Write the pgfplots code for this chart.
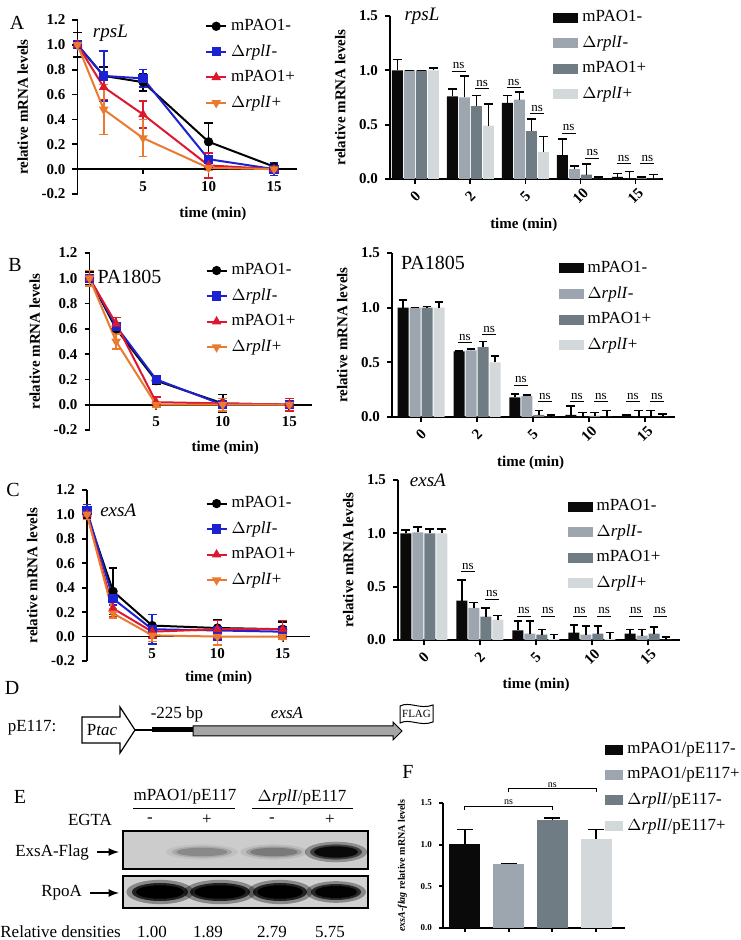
\documentclass[border=0pt]{standalone}
\usepackage{fontspec}
\setmainfont{Liberation Serif}
\usepackage{pgfplots}
\pgfplotsset{compat=1.18}

\definecolor{cblue}{HTML}{1C22D0}
\definecolor{cred}{HTML}{DC1830}
\definecolor{corange}{HTML}{E97A30}
\definecolor{bA}{HTML}{0A0A0A}
\definecolor{bB}{HTML}{9DA5AF}
\definecolor{bC}{HTML}{707C83}
\definecolor{bD}{HTML}{D3D8DA}

\newcommand{\fs}[1]{\fontsize{#1}{#1}\selectfont}
\newcommand{\dr}{$\Delta$\textit{rplI}}
% ns mark above a pair of bars
\newcommand{\ns}[2]{\draw[line width=0.5pt] ([xshift=-3.5pt]axis cs:#1,#2) -- ([xshift=3.5pt]axis cs:#1,#2);
  \node[font=\fs{6.5}, anchor=south, inner sep=0pt] at ([yshift=1pt]axis cs:#1,#2) {ns};}
% blurred blot band
\newcommand{\band}[7]{\fill[black, opacity=#5] (#1,#2) ellipse ({#3*1.2} and {#4*1.35});
  \fill[black, opacity=#6] (#1,#2) ellipse (#3 and #4);
  \fill[black, opacity=#7] (#1,#2) ellipse ({#3*0.85} and {#4*0.75});}

\pgfplotsset{
  base/.style={scale only axis, clip=false, enlargelimits=false,
    tick align=outside, major tick length=2.5pt,
    /pgf/number format/assume math mode=true,
    tick label style={font=\bfseries\fs{7.5}},
    label style={font=\bfseries\fs{7.5}},
    yticklabel style={/pgf/number format/.cd, fixed, fixed zerofill, precision=1},
    axis line style={line width=0.9pt}, tick style={line width=0.9pt, black}},
  linechart/.style={base, xmin=0, xmax=#1, ymin=-0.2, ymax=1.2,
    axis y line*=left, axis x line*=middle,
    xtick={5,10,15}, ytick={-0.2,0,0.2,0.4,0.6,0.8,1.0,1.2},
    ylabel={relative mRNA levels}, xlabel={time (min)},
    legend style={anchor=north west, draw=none, fill=none, inner sep=0pt,
      font=\fs{8.5}, row sep=1.5pt, cells={anchor=west}},
    legend image code/.code={\draw[mark repeat=2,mark phase=2,##1] plot coordinates {(0pt,0pt) (5pt,0pt) (10pt,0pt)};},
    every axis plot/.append style={line width=1pt, mark size=1.8pt,
      /pgfplots/error bars/y dir=both, /pgfplots/error bars/y explicit,
      /pgfplots/error bars/error bar style={line width=0.8pt, solid},
      /pgfplots/error bars/error mark options={rotate=90, mark size=2.2pt, line width=0.8pt}}},
  barchart/.style n args={2}{base, xmin=#1, xmax=#2, ymin=0, ymax=1.5,
    ybar=0.5pt, bar width=5.5pt,
    axis x line*=bottom, axis y line*=left,
    xtick={0,1,2,3,4}, xticklabels={0,2,5,10,15}, ytick={0,0.5,1,1.5},
    xticklabel style={yshift=-6pt, rotate=45, anchor=center},
    ylabel={relative mRNA levels}, xlabel={time (min)},
    legend style={anchor=north west, draw=none, fill=none, inner sep=0pt,
      font=\fs{8.5}, row sep=1.5pt, cells={anchor=west}},
    legend image code/.code={\fill[##1, draw=none] (0pt,-2.5pt) rectangle (12.5pt,2.5pt);},
    every axis plot/.append style={draw=none,
      /pgfplots/error bars/y dir=plus, /pgfplots/error bars/y explicit,
      /pgfplots/error bars/error bar style={black, line width=0.8pt},
      /pgfplots/error bars/error mark options={rotate=90, mark size=2.2pt, black, line width=0.8pt}}},
  pblack/.style={color=black, mark=*},
  pblue/.style={color=cblue, mark=square*},
  pred/.style={color=cred, mark=triangle*},
  porange/.style={color=corange, mark=triangle*, mark options={rotate=180}},
}

\begin{document}
\begin{tikzpicture}
\useasboundingbox (0,0) rectangle (370pt,470pt);

% ---------- A, line ----------
\begin{axis}[linechart=16.75, at={(38.75pt,373pt)}, anchor=south west,
  width=109.75pt, height=87pt,
  xlabel style={at={(rel axis cs:0.617,0)}, anchor=center, yshift=-10pt},
  legend style={at={(0.58,1.03)}}]
\addplot[pblack] coordinates {(0,1.0) +- (0,0.1) (2,0.75) +- (0,0.07) (5,0.70) +- (0,0.07) (10,0.22) +- (0,0.15) (15,0.02) +- (0,0.03)};
\addplot[pblue] coordinates {(0,1.0) +- (0,0) (2,0.75) +- (0,0.2) (5,0.73) +- (0,0.07) (10,0.08) +- (0,0.05) (15,0.0) +- (0,0.05)};
\addplot[pred] coordinates {(0,1.0) +- (0,0) (2,0.66) +- (0,0.1) (5,0.44) +- (0,0.11) (10,0.03) +- (0,0.1) (15,0.0) +- (0,0.01)};
\addplot[porange] coordinates {(0,1.0) +- (0,0) (2,0.48) +- (0,0.2) (5,0.25) +- (0,0.15) (10,0.01) +- (0,0.02) (15,0.0) +- (0,0.01)};
\legend{mPAO1-, \dr-, mPAO1+, \dr+}
\node[font=\itshape\fs{9.5}] at (rel axis cs:0.15,0.925) {rpsL};
\end{axis}

% ---------- A, bars ----------
\begin{axis}[barchart={-0.46}{4.5}, at={(195pt,380.5pt)}, anchor=south west,
  width=136.5pt, height=81.5pt,
  xlabel style={at={(rel axis cs:0.49,0)}, anchor=center, yshift=-23pt},
  legend style={at={(0.597,1.06)}}]
\addplot[fill=bA] coordinates {(0,1.0) +- (0,0.1) (1,0.76) +- (0,0.07) (2,0.70) +- (0,0.07) (3,0.22) +- (0,0.15) (4,0.02) +- (0,0.03)};
\addplot[fill=bB] coordinates {(0,1.0) +- (0,0) (1,0.75) +- (0,0.2) (2,0.73) +- (0,0.07) (3,0.09) +- (0,0.03) (4,0.0) +- (0,0.07)};
\addplot[fill=bC] coordinates {(0,1.0) +- (0,0) (1,0.67) +- (0,0.1) (2,0.44) +- (0,0.11) (3,0.04) +- (0,0.1) (4,0.01) +- (0,0.01)};
\addplot[fill=bD] coordinates {(0,1.0) +- (0,0.02) (1,0.49) +- (0,0.2) (2,0.25) +- (0,0.14) (3,0.0) +- (0,0.02) (4,0.0) +- (0,0.04)};
\legend{mPAO1-, \dr-, mPAO1+, \dr+}
\node[font=\itshape\fs{9.5}] at (rel axis cs:0.117,1.0) {rpsL};
\ns{0.785}{0.99} \ns{1.215}{0.83}
\ns{1.785}{0.84} \ns{2.215}{0.60}
\ns{2.785}{0.42} \ns{3.215}{0.19}
\ns{3.785}{0.14} \ns{4.215}{0.14}
\end{axis}

% ---------- B, line ----------
\begin{axis}[linechart=16.7, at={(44.75pt,255pt)}, anchor=south west,
  width=111.25pt, height=88.5pt,
  xlabel style={at={(rel axis cs:0.61,0)}, anchor=center, yshift=-9pt},
  legend style={at={(0.52,0.966)}}]
\addplot[pblack] coordinates {(0,1.0) +- (0,0.05) (2,0.60) +- (0,0.01) (5,0.19) +- (0,0.03) (10,0.01) +- (0,0.07) (15,0.0) +- (0,0.01)};
\addplot[pblue] coordinates {(0,1.0) +- (0,0) (2,0.62) +- (0,0.01) (5,0.20) +- (0,0.01) (10,0.0) +- (0,0.03) (15,0.0) +- (0,0.05)};
\addplot[pred] coordinates {(0,1.0) +- (0,0.01) (2,0.64) +- (0,0.05) (5,0.02) +- (0,0.04) (10,0.01) +- (0,0.02) (15,0.0) +- (0,0.05)};
\addplot[porange] coordinates {(0,1.0) +- (0,0.06) (2,0.50) +- (0,0.06) (5,0.0) +- (0,0.02) (10,0.0) +- (0,0.05) (15,0.0) +- (0,0.03)};
\legend{mPAO1-, \dr-, mPAO1+, \dr+}
\node[font=\fs{10}] at (rel axis cs:0.18,0.864) {PA1805};
\end{axis}

% ---------- B, bars ----------
\begin{axis}[barchart={-0.52}{4.54}, at={(196pt,261.5pt)}, anchor=south west,
  width=141.5pt, height=82pt,
  xlabel style={at={(rel axis cs:0.49,0)}, anchor=center, yshift=-23pt},
  legend style={at={(0.587,0.976)}}]
\addplot[fill=bA] coordinates {(0,1.0) +- (0,0.07) (1,0.60) +- (0,0.005) (2,0.18) +- (0,0.03) (3,0.02) +- (0,0.08) (4,0.01) +- (0,0.01)};
\addplot[fill=bB] coordinates {(0,1.0) +- (0,0) (1,0.61) +- (0,0.01) (2,0.19) +- (0,0.01) (3,0.0) +- (0,0.04) (4,0.0) +- (0,0.06)};
\addplot[fill=bC] coordinates {(0,1.0) +- (0,0.01) (1,0.64) +- (0,0.05) (2,0.02) +- (0,0.04) (3,0.01) +- (0,0.03) (4,0.0) +- (0,0.06)};
\addplot[fill=bD] coordinates {(0,1.0) +- (0,0.05) (1,0.50) +- (0,0.06) (2,0.0) +- (0,0.02) (3,0.0) +- (0,0.06) (4,0.0) +- (0,0.03)};
\legend{mPAO1-, \dr-, mPAO1+, \dr+}
\node[font=\fs{10}] at (rel axis cs:0.145,0.94) {PA1805};
\ns{0.785}{0.68} \ns{1.215}{0.75}
\ns{1.785}{0.29} \ns{2.215}{0.14}
\ns{2.785}{0.14} \ns{3.215}{0.14}
\ns{3.785}{0.14} \ns{4.215}{0.14}
\end{axis}

% ---------- C, line ----------
\begin{axis}[linechart=17.1, at={(43.5pt,139.5pt)}, anchor=south west,
  width=111.5pt, height=85.5pt,
  xlabel style={at={(rel axis cs:0.59,0)}, anchor=center, yshift=-8.5pt},
  legend style={at={(0.53,0.988)}}]
\addplot[pblack] coordinates {(0,1.0) +- (0,0.03) (2,0.37) +- (0,0.19) (5,0.09) +- (0,0.09) (10,0.07) +- (0,0.07) (15,0.06) +- (0,0.06)};
\addplot[pblue] coordinates {(0,1.03) +- (0,0.05) (2,0.31) +- (0,0.05) (5,0.06) +- (0,0.12) (10,0.05) +- (0,0.08) (15,0.04) +- (0,0.04)};
\addplot[pred] coordinates {(0,1.0) +- (0,0.04) (2,0.23) +- (0,0.07) (5,0.04) +- (0,0.05) (10,0.06) +- (0,0.07) (15,0.06) +- (0,0.07)};
\addplot[porange] coordinates {(0,1.0) +- (0,0.04) (2,0.19) +- (0,0.04) (5,0.01) +- (0,0.05) (10,0.0) +- (0,0.07) (15,0.0) +- (0,0.02)};
\legend{mPAO1-, \dr-, mPAO1+, \dr+}
\node[font=\itshape\fs{9.5}] at (rel axis cs:0.14,0.883) {exsA};
\end{axis}

% ---------- C, bars ----------
\begin{axis}[barchart={-0.46}{4.57}, at={(199pt,150pt)}, anchor=south west,
  width=141pt, height=80pt,
  xlabel style={at={(rel axis cs:0.49,0)}, anchor=center, yshift=-22.5pt},
  legend style={at={(0.6,0.906)}}]
\addplot[fill=bA] coordinates {(0,1.0) +- (0,0.03) (1,0.37) +- (0,0.19) (2,0.09) +- (0,0.09) (3,0.07) +- (0,0.07) (4,0.06) +- (0,0.04)};
\addplot[fill=bB] coordinates {(0,1.01) +- (0,0.05) (1,0.30) +- (0,0.05) (2,0.06) +- (0,0.12) (3,0.05) +- (0,0.08) (4,0.04) +- (0,0.06)};
\addplot[fill=bC] coordinates {(0,1.0) +- (0,0.04) (1,0.22) +- (0,0.08) (2,0.05) +- (0,0.05) (3,0.06) +- (0,0.07) (4,0.06) +- (0,0.06)};
\addplot[fill=bD] coordinates {(0,1.0) +- (0,0.04) (1,0.19) +- (0,0.04) (2,0.01) +- (0,0.04) (3,0.01) +- (0,0.06) (4,0.0) +- (0,0.03)};
\legend{mPAO1-, \dr-, mPAO1+, \dr+}
\node[font=\itshape\fs{9.5}] at (rel axis cs:0.106,1.0) {exsA};
\ns{0.785}{0.64} \ns{1.215}{0.38}
\ns{1.785}{0.22} \ns{2.215}{0.22}
\ns{2.785}{0.22} \ns{3.215}{0.22}
\ns{3.785}{0.22} \ns{4.215}{0.22}
\end{axis}

% ---------- F ----------
\begin{axis}[base, at={(221.5pt,6pt)}, anchor=south west, width=91pt, height=62.5pt,
  xmin=-0.5, xmax=3.66, ymin=0, ymax=1.5, ybar, bar width=15.5pt,
  axis x line*=bottom, axis y line*=left,
  xtick={0,1,2,3}, xticklabels={}, ytick={0,0.5,1,1.5},
  major tick length=2pt,
  tick label style={font=\bfseries\fs{4.5}},
  ylabel={\textit{exsA-flag} relative mRNA levels},
  label style={font=\bfseries\fs{5}},
  legend style={at={(0.89,1.52)}, anchor=north west, draw=none, fill=none, inner sep=0pt,
    font=\fs{8.5}, row sep=1.5pt, cells={anchor=west}},
  legend image code/.code={\fill[#1, draw=none] (0pt,-2.5pt) rectangle (9pt,2.5pt);},
  every axis plot/.append style={draw=none, bar shift=0pt,
    /pgfplots/error bars/y dir=plus, /pgfplots/error bars/y explicit,
    /pgfplots/error bars/error bar style={black, line width=0.7pt},
    /pgfplots/error bars/error mark options={rotate=90, mark size=4pt, black, line width=0.7pt}}]
\addplot[fill=bA] coordinates {(0,1.01) +- (0,0.17)};
\addplot[fill=bB] coordinates {(1,0.77) +- (0,0.005)};
\addplot[fill=bC] coordinates {(2,1.29) +- (0,0.03)};
\addplot[fill=bD] coordinates {(3,1.07) +- (0,0.11)};
\legend{mPAO1/pE117-, mPAO1/pE117+, \dr/pE117-, \dr/pE117+}
\draw[line width=0.4pt] (axis cs:0,1.42) -- (axis cs:0,1.46) -- (axis cs:2,1.46) -- (axis cs:2,1.42);
\node[font=\fs{5}, anchor=south, inner sep=0.5pt] at (axis cs:1,1.46) {ns};
\draw[line width=0.4pt] (axis cs:1,1.63) -- (axis cs:1,1.67) -- (axis cs:3,1.67) -- (axis cs:3,1.63);
\node[font=\fs{5}, anchor=south, inner sep=0.5pt] at (axis cs:2,1.67) {ns};
\end{axis}

% ---------- panel letters ----------
\node[font=\fs{10}] at (8.5pt,458.5pt) {A};
\node[font=\fs{10}] at (7.5pt,337.5pt) {B};
\node[font=\fs{10}] at (6.5pt,225pt) {C};
\node[font=\fs{10}] at (6pt,126pt) {D};
\node[font=\fs{10}] at (10pt,71.5pt) {E};
\node[font=\fs{10}] at (204pt,84pt) {F};

% ---------- D: construct ----------
\node[font=\fs{8.5}] at (16pt,106pt) {pE117:};
\draw[line width=0.6pt, fill=white] (41pt,98.5pt) -- (60pt,98.5pt) -- (60pt,93.5pt) -- (67.5pt,105pt)
  -- (60pt,116.5pt) -- (60pt,111.5pt) -- (41pt,111.5pt) -- cycle;
\node[font=\fs{8.5}] at (51pt,105pt) {P\textit{tac}};
\draw[line width=0.6pt] (67.5pt,105pt) -- (76pt,105pt);
\draw[line width=2.5pt] (76pt,105pt) -- (96.5pt,105pt);
\draw[line width=0.5pt, fill=black!35] (96.5pt,107pt) -- (196.5pt,107pt) -- (196.5pt,109pt) -- (201pt,104.5pt)
  -- (196.5pt,100pt) -- (196.5pt,102pt) -- (96.5pt,102pt) -- cycle;
\draw[line width=0.5pt, fill=white] (200pt,108.5pt) -- (200pt,117pt) .. controls (205pt,119.5pt) and (210pt,115pt) .. (216.5pt,117.5pt)
  -- (216.5pt,109pt) .. controls (210pt,106.5pt) and (205pt,111pt) .. (200pt,108.5pt) -- cycle;
\node[font=\fs{5.5}] at (208.25pt,113pt) {FLAG};
\node[font=\fs{8.5}] at (88.5pt,113pt) {-225 bp};
\node[font=\itshape\fs{8.5}] at (143.5pt,113.5pt) {exsA};

% ---------- E: blot ----------
\node[font=\fs{8.5}] at (92.5pt,71.5pt) {mPAO1/pE117};
\draw[line width=0.5pt] (66.5pt,65.5pt) -- (117.5pt,65.5pt);
\node[font=\fs{8.5}] at (151pt,71.5pt) {\dr/pE117};
\draw[line width=0.5pt] (126pt,65.5pt) -- (176.5pt,65.5pt);
\node[font=\fs{8.5}] at (45pt,60pt) {EGTA};
\node[font=\fs{8.5}] at (75pt,60pt) {-};
\node[font=\fs{8.5}] at (103.5pt,60pt) {+};
\node[font=\fs{8.5}] at (136pt,60pt) {-};
\node[font=\fs{8.5}] at (165pt,60pt) {+};
\fill[black!20] (61.5pt,35.5pt) rectangle (184pt,54.5pt);
\band{101pt}{44pt}{15pt}{2.8pt}{0.06}{0.12}{0.18}
\band{137pt}{44pt}{14pt}{2.8pt}{0.08}{0.16}{0.22}
\band{168pt}{44pt}{13pt}{3.8pt}{0.3}{0.55}{0.85}
\draw[line width=0.8pt] (61.5pt,35.5pt) rectangle (184pt,54.5pt);
\fill[black!18] (61.5pt,16pt) rectangle (184pt,32pt);
\band{80pt}{24pt}{14pt}{4.5pt}{0.35}{0.75}{1}
\band{110pt}{24pt}{15pt}{4.5pt}{0.35}{0.75}{1}
\band{140pt}{24pt}{13.5pt}{4.5pt}{0.35}{0.75}{1}
\band{168pt}{24pt}{12.5pt}{4pt}{0.35}{0.7}{0.95}
\draw[line width=0.8pt] (61.5pt,16pt) rectangle (184pt,32pt);
\node[font=\fs{8.5}, anchor=east] at (48pt,44pt) {ExsA-Flag};
\draw[-latex, line width=0.8pt] (48.5pt,44pt) -- (59.5pt,44pt);
\node[font=\fs{8.5}, anchor=east] at (44.5pt,23.5pt) {RpoA};
\draw[-latex, line width=0.8pt] (45pt,23.5pt) -- (59.5pt,23.5pt);
\node[font=\fs{8.5}, anchor=west, inner sep=0pt] at (0pt,4pt) {Relative densities};
\node[font=\fs{8.5}] at (76pt,4pt) {1.00};
\node[font=\fs{8.5}] at (104pt,4pt) {1.89};
\node[font=\fs{8.5}] at (136pt,4pt) {2.79};
\node[font=\fs{8.5}] at (165pt,4pt) {5.75};
\end{tikzpicture}
\end{document}
